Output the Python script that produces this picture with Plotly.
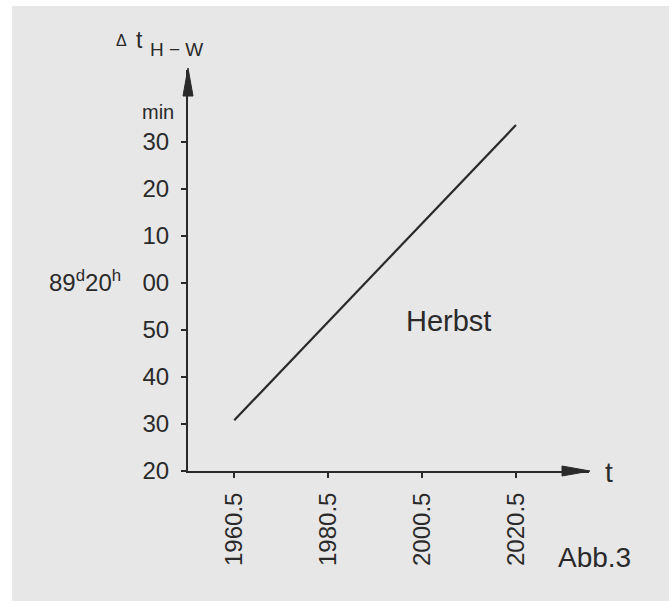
import plotly.graph_objects as go

# ---- data ----
years = [1960.5, 2020.5]                      # t
offsets_min = [-29.2, 33.6]                   # minutes relative to 89d20h00
x_ticks = [1960.5, 1980.5, 2000.5, 2020.5]
x_tick_labels = ["1960.5", "1980.5", "2000.5", "2020.5"]
y_ticks = [-40, -30, -20, -10, 0, 10, 20, 30]
y_tick_labels = ["20", "30", "40", "50", "00", "10", "20", "30"]

W, H = 669, 601
L, R, T, B = 188, 80, 70, 130
PW, PH = W - L - R, H - T - B

def px(x):  # pixel -> paper x
    return (x - L) / PW

def py(y):  # pixel -> paper y
    return (H - B - y) / PH

INK = "#2a2a2a"
BG = "#e7e7e7"
FONT = "Liberation Sans, Arial, Helvetica, sans-serif"

fig = go.Figure()
fig.add_trace(go.Scatter(x=years, y=offsets_min, mode="lines",
                         line=dict(color=INK, width=2.2), showlegend=False,
                         hoverinfo="skip"))

fig.update_layout(
    width=W, height=H,
    margin=dict(l=L, r=R, t=T, b=B, pad=0),
    paper_bgcolor="white", plot_bgcolor="rgba(0,0,0,0)",
    font=dict(family=FONT, color=INK, size=24),
    showlegend=False,
    xaxis=dict(range=[1950.65, 1950.65 + PW / 4.695], showgrid=False, zeroline=False,
               showline=True, linecolor=INK, linewidth=2,
               tickmode="array", tickvals=x_ticks, ticktext=x_tick_labels,
               ticks="outside", ticklen=5, tickwidth=2, tickcolor=INK,
               tickangle=-90, tickfont=dict(size=24, color=INK, family=FONT),
               ticklabelstandoff=5),
    yaxis=dict(range=[-40, -40 + PH / 4.7], showgrid=False, zeroline=False,
               showline=True, linecolor=INK, linewidth=2,
               tickmode="array", tickvals=y_ticks, ticktext=y_tick_labels,
               ticks="outside", ticklen=5, tickwidth=2, tickcolor=INK,
               tickfont=dict(size=24, color=INK, family=FONT),
               ticklabelstandoff=7),
)

shapes = [
    # gray scanned-page background
    dict(type="rect", xref="paper", yref="paper", x0=px(12), x1=px(669), y0=py(601), y1=py(6),
         fillcolor=BG, line=dict(width=0), layer="below"),
    # y-axis arrowhead
    dict(type="path", xref="paper", yref="paper",
         path=f"M {px(188)},{py(68)} L {px(183)},{py(96)} L {px(193)},{py(96)} Z",
         fillcolor=INK, line=dict(color=INK, width=1)),
    # x-axis arrowhead
    dict(type="path", xref="paper", yref="paper",
         path=f"M {px(590)},{py(471)} L {px(562)},{py(466)} L {px(562)},{py(476)} Z",
         fillcolor=INK, line=dict(color=INK, width=1)),
]
fig.update_layout(shapes=shapes)

def ann(text, x, y, size, xanchor="center", yanchor="middle"):
    fig.add_annotation(text=text, xref="paper", yref="paper", x=px(x), y=py(y),
                       showarrow=False, xanchor=xanchor, yanchor=yanchor,
                       font=dict(size=size, color=INK, family=FONT))

ann("Δ", 121, 41, 16)
ann("t", 139, 40, 23)
ann("H − W", 176, 49, 19)
ann("min", 158, 112, 20)
ann("89<sup>d</sup>20<sup>h</sup>", 123, 281, 24, xanchor="right")
ann("Herbst", 404, 321, 29, xanchor="left")
ann("t", 603, 472, 28, xanchor="left")
ann("Abb.3", 556, 557, 28, xanchor="left")

fig.write_html("out.html", config={"displayModeBar": False},
               post_script="document.body.style.margin='0';document.body.style.overflow='hidden';")
